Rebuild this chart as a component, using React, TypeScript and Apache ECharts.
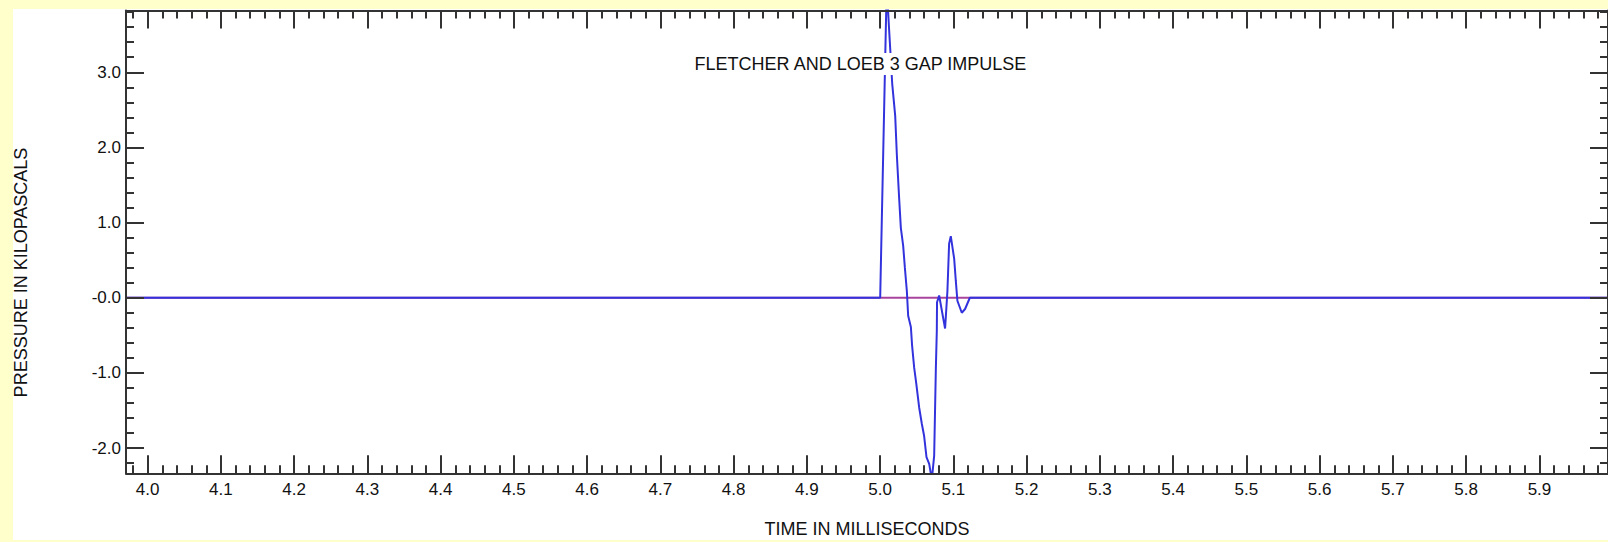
import React, { useEffect, useRef } from "react";
import * as echarts from "echarts";

// ---- Data ----
const titleText = "FLETCHER AND LOEB 3 GAP IMPULSE";
const xName = "TIME IN MILLISECONDS";
const yName = "PRESSURE IN KILOPASCALS";

const xMin = 3.9704;
const xMax = 5.9936;
const yMin = -2.336;
const yMax = 3.822;

const xTickValues = [4.0, 4.1, 4.2, 4.3, 4.4, 4.5, 4.6, 4.7, 4.8, 4.9, 5.0, 5.1, 5.2, 5.3, 5.4, 5.5, 5.6, 5.7, 5.8, 5.9];
const xTickLabels = ["4.0", "4.1", "4.2", "4.3", "4.4", "4.5", "4.6", "4.7", "4.8", "4.9", "5.0", "5.1", "5.2", "5.3", "5.4", "5.5", "5.6", "5.7", "5.8", "5.9"];
const yTickValues = [3, 2, 1, 0, -1, -2];
const yTickLabels = ["3.0", "2.0", "1.0", "-0.0", "-1.0", "-2.0"];

// minor ticks: every 0.02 ms on x, every 0.2 kPa on y
const xMinorTicks: number[] = [];
for (let i = 199; i <= 299; i++) xMinorTicks.push(Math.round(i * 2) / 100);
const yMinorTicks: number[] = [];
for (let i = -11; i <= 19; i++) yMinorTicks.push(Math.round(i * 2) / 10);

// blue impulse trace (ms, kPa)
const impulseTime = [
  3.9704, 5.0, 5.0089, 5.0123, 5.0164, 5.0205, 5.0228, 5.0259, 5.0282, 5.0314, 5.0337,
  5.0364, 5.0382, 5.0419, 5.0436, 5.0464, 5.0491, 5.0532, 5.0569, 5.06, 5.0632, 5.0669,
  5.0705, 5.0737, 5.076, 5.0773, 5.0776, 5.0805, 5.0886, 5.0918, 5.0941, 5.0964, 5.101,
  5.1032, 5.1054, 5.1114, 5.1159, 5.1224, 5.9936,
];
const impulsePressure = [
  0.0, 0.0, 4.14, 3.55, 2.85, 2.42, 1.89, 1.32, 0.93, 0.69, 0.4,
  0.09, -0.24, -0.39, -0.64, -0.93, -1.13, -1.46, -1.68, -1.84, -2.12, -2.21,
  -2.42, -2.1, -0.94, -0.44, -0.06, 0.03, -0.41, 0.09, 0.72, 0.82, 0.52,
  0.23, -0.04, -0.2, -0.15, 0.0, 0.0,
];

// purple baseline
const baselineTime = [3.9704, 5.9936];
const baselinePressure = [0.0, 0.0];

const FONT = '"Liberation Sans", Arial, sans-serif';
const AXIS_COLOR = "#333333";
const TEXT_COLOR = "#111111";

export default function App() {
  const ref = useRef<HTMLDivElement>(null);

  useEffect(() => {
    if (!ref.current) return;
    const chart = echarts.init(ref.current, undefined, { renderer: "svg" });

    const lineStyle = { color: AXIS_COLOR, width: 2 };

    const xAxisBase = (position: string, major: boolean, showLine: boolean, showLabel: boolean) => ({
      type: "value",
      min: xMin,
      max: xMax,
      position,
      z: 5,
      splitLine: { show: false },
      axisLine: { show: showLine, onZero: false, lineStyle },
      axisTick: {
        show: true,
        inside: true,
        length: major ? 18 : 8,
        customValues: major ? xTickValues : xMinorTicks,
        lineStyle,
      },
      axisLabel: showLabel
        ? {
            show: true,
            customValues: xTickValues,
            formatter: (v: number) => {
              const i = xTickValues.findIndex((t) => Math.abs(t - v) < 1e-6);
              return i >= 0 ? xTickLabels[i] : "";
            },
            fontSize: 17,
            fontFamily: FONT,
            color: TEXT_COLOR,
            margin: 8,
          }
        : { show: false },
    });

    const yAxisBase = (position: string, major: boolean, showLine: boolean, showLabel: boolean) => ({
      type: "value",
      min: yMin,
      max: yMax,
      position,
      z: 5,
      splitLine: { show: false },
      axisLine: { show: showLine, onZero: false, lineStyle },
      axisTick: {
        show: true,
        inside: true,
        length: major ? 18 : 8,
        customValues: major ? yTickValues : yMinorTicks,
        lineStyle,
      },
      axisLabel: showLabel
        ? {
            show: true,
            customValues: yTickValues,
            formatter: (v: number) => {
              const i = yTickValues.findIndex((t) => Math.abs(t - v) < 1e-6);
              return i >= 0 ? yTickLabels[i] : "";
            },
            fontSize: 17,
            fontFamily: FONT,
            color: TEXT_COLOR,
            margin: 5,
          }
        : { show: false },
    });

    chart.setOption({
      animation: false,
      backgroundColor: "#FFFFCC",
      grid: { left: 126, right: -1, top: 10.5, bottom: 68.7, containLabel: false },
      xAxis: [
        xAxisBase("bottom", true, true, true),
        xAxisBase("bottom", false, false, false),
        xAxisBase("top", true, true, false),
        xAxisBase("top", false, false, false),
      ],
      yAxis: [
        yAxisBase("left", true, true, true),
        yAxisBase("left", false, false, false),
        yAxisBase("right", true, true, false),
        yAxisBase("right", false, false, false),
      ],
      graphic: [
        {
          type: "rect",
          z: -10,
          silent: true,
          shape: { x: 13, y: 9, width: 1600, height: 531 },
          style: { fill: "#FFFFFF" },
        },
        {
          type: "rect",
          z: 99,
          silent: true,
          shape: { x: 690, y: 53, width: 342, height: 22 },
          style: { fill: "#FFFFFF" },
        },
        {
          type: "text",
          z: 100,
          x: 860.5,
          y: 63.5,
          style: {
            text: titleText,
            fill: TEXT_COLOR,
            fontSize: 18,
            fontFamily: FONT,
            align: "center",
            verticalAlign: "middle",
          },
        },
        {
          type: "text",
          z: 100,
          x: 867,
          y: 529,
          style: {
            text: xName,
            fill: TEXT_COLOR,
            fontSize: 18,
            fontFamily: FONT,
            align: "center",
            verticalAlign: "middle",
          },
        },
        {
          type: "text",
          z: 100,
          x: 21,
          y: 272.5,
          rotation: Math.PI / 2,
          style: {
            text: yName,
            fill: TEXT_COLOR,
            fontSize: 18,
            fontFamily: FONT,
            align: "center",
            verticalAlign: "middle",
          },
        },
      ],
      series: [
        {
          type: "line",
          xAxisIndex: 0,
          yAxisIndex: 0,
          z: 2,
          showSymbol: false,
          symbol: "none",
          lineStyle: { color: "#A8449E", width: 2 },
          data: baselineTime.map((t, i) => [t, baselinePressure[i]]),
        },
        {
          type: "line",
          xAxisIndex: 0,
          yAxisIndex: 0,
          z: 3,
          showSymbol: false,
          symbol: "none",
          lineStyle: { color: "#3333DD", width: 2 },
          data: impulseTime.map((t, i) => [t, impulsePressure[i]]),
        },
      ],
    });

    return () => chart.dispose();
  }, []);

  return <div ref={ref} style={{ position: "absolute", left: 0, top: 0, width: 1608, height: 542 }} />;
}
